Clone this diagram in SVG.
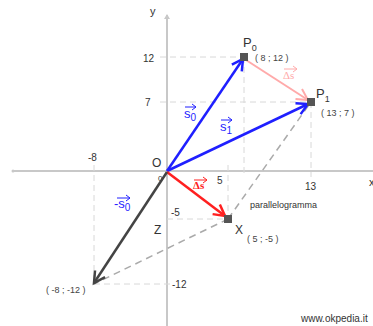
<svg xmlns="http://www.w3.org/2000/svg" width="373" height="326" viewBox="0 0 373 326">
<style>
.axis{stroke:#c8c8c8;stroke-width:2;fill:none}
.grid{stroke:#d8d8d8;stroke-width:1;stroke-dasharray:6,4;fill:none}
.para{stroke:#aaaaaa;stroke-width:1.5;stroke-dasharray:7,5;fill:none}
.t{font-family:"Liberation Sans",Arial,sans-serif;fill:#333}
.tick{font-size:10px}
.coord{font-size:9px;fill:#444}
.pt{fill:#555}
.vlab{font-family:"Liberation Sans",Arial,sans-serif;font-size:13px}
</style>
<defs>
<marker id="aB" markerUnits="userSpaceOnUse" markerWidth="16" markerHeight="16" refX="0" refY="0" viewBox="-14 -8 16 16" orient="auto" overflow="visible"><path d="M-11,-6 L0,0 L-11,6" fill="none" stroke="#1f1fff" stroke-width="2.5"/></marker>
<marker id="aR" markerUnits="userSpaceOnUse" markerWidth="16" markerHeight="16" refX="0" refY="0" viewBox="-14 -8 16 16" orient="auto" overflow="visible"><path d="M-11,-6 L0,0 L-11,6" fill="none" stroke="#ff2020" stroke-width="2.5"/></marker>
<marker id="aP" markerUnits="userSpaceOnUse" markerWidth="16" markerHeight="16" refX="0" refY="0" viewBox="-14 -8 16 16" orient="auto" overflow="visible"><path d="M-11,-6 L0,0 L-11,6" fill="none" stroke="#ffaaaa" stroke-width="2"/></marker>
<marker id="aD" markerUnits="userSpaceOnUse" markerWidth="16" markerHeight="16" refX="0" refY="0" viewBox="-14 -8 16 16" orient="auto" overflow="visible"><path d="M-11,-6 L0,0 L-11,6" fill="none" stroke="#444" stroke-width="2.5"/></marker>
<marker id="tiny" markerUnits="userSpaceOnUse" viewBox="-5 -4 6 8" markerWidth="6" markerHeight="8" refX="0" refY="0" orient="auto" overflow="visible"><path d="M-4,-3 L0,0 L-4,3" fill="none" stroke="context-stroke" stroke-width="1"/></marker>
</defs>

<g id="axes">
<line class="axis" x1="13" y1="171" x2="373" y2="171"/>
<line class="axis" x1="167" y1="15" x2="167" y2="326"/>
<circle cx="13" cy="171" r="1.5" fill="#c8c8c8"/>
<path d="M164,19 L167,14 L170,19" fill="#c8c8c8"/>
<text class="t" x="150" y="15" font-size="11" fill="#555">y</text>
<text class="t" x="369" y="186" font-size="11" fill="#555">x</text>
<text class="t tick" x="143" y="62">12</text>
<text class="t tick" x="145" y="106">7</text>
<text class="t tick" x="88" y="161">-8</text>
<text class="t" x="158" y="181" font-size="8">0</text>
<text class="t tick" x="171" y="216">-5</text>
<text class="t tick" x="172" y="288">-12</text>
<text class="t tick" x="217" y="184">5</text>
<text class="t tick" x="305" y="190">13</text>
</g>

<g id="grid">
<line class="grid" x1="160" y1="57" x2="244" y2="57"/>
<line class="grid" x1="244" y1="57" x2="244" y2="177"/>
<line class="grid" x1="160" y1="102" x2="311" y2="102"/>
<line class="grid" x1="311" y1="102" x2="311" y2="177"/>
<line class="grid" x1="228" y1="165" x2="228" y2="219"/>
<line class="grid" x1="167" y1="219" x2="228" y2="219"/>
<line class="grid" x1="94" y1="165" x2="94" y2="284"/>
<line class="grid" x1="94" y1="284" x2="172" y2="284"/>
</g>

<g id="connectors">
<line class="para" x1="228" y1="219" x2="311" y2="102"/>
<line class="para" x1="228" y1="219" x2="94" y2="284"/>
<line x1="167" y1="171" x2="243" y2="59" stroke="#1f1fff" stroke-width="2.5" marker-end="url(#aB)"/>
<line x1="167" y1="171" x2="308" y2="104" stroke="#1f1fff" stroke-width="2.5" marker-end="url(#aB)"/>
<line x1="246" y1="60" x2="308" y2="100" stroke="#ffaaaa" stroke-width="2" marker-end="url(#aP)"/>
<line x1="167" y1="172" x2="225" y2="216" stroke="#ff2020" stroke-width="2.5" marker-end="url(#aR)"/>
<line x1="167" y1="172" x2="94" y2="283" stroke="#444" stroke-width="2.5" marker-end="url(#aD)"/>
</g>

<g id="P0">
<rect class="pt" x="240" y="53" width="8" height="8"/>
<text class="t" x="243" y="47" font-size="13">P<tspan font-size="9" dy="4">0</tspan></text>
<text class="t coord" x="255" y="61">( 8 ; 12 )</text>
</g>
<g id="P1">
<rect class="pt" x="307" y="98" width="8" height="8"/>
<text class="t" x="316" y="98" font-size="13">P<tspan font-size="9" dy="4">1</tspan></text>
<text class="t coord" x="321" y="116">( 13 ; 7 )</text>
</g>
<g id="X">
<rect class="pt" x="224" y="215" width="8" height="8"/>
<text class="t" x="235" y="234" font-size="12">X</text>
<text class="t coord" x="247" y="242">( 5 ; -5 )</text>
</g>
<g id="Q">
<text class="t coord" x="46" y="293">( -8 ; -12 )</text>
</g>
<g id="O">
<text class="t" x="152" y="167" font-size="12">O</text>
</g>
<g id="Z">
<text class="t" x="154" y="234" font-size="12">Z</text>
</g>
<g id="labels">
<text class="vlab" x="184" y="118" fill="#1f1fff">s<tspan font-size="10" dy="3">0</tspan></text>
<line x1="185" y1="107" x2="196" y2="107" stroke="#1f1fff" stroke-width="1" marker-end="url(#tiny)"/>
<text class="vlab" x="220" y="131" fill="#1f1fff">s<tspan font-size="10" dy="3">1</tspan></text>
<line x1="221" y1="120" x2="232" y2="120" stroke="#1f1fff" stroke-width="1" marker-end="url(#tiny)"/>
<text x="283" y="79" font-family="'Liberation Serif',serif" font-size="11" fill="#ffaaaa">Δs</text>
<line x1="284" y1="69" x2="297" y2="69" stroke="#ffaaaa" stroke-width="1" marker-end="url(#tiny)"/>
<text x="193" y="189" font-family="'Liberation Serif',serif" font-size="11" font-weight="bold" fill="#ff2020">Δs</text>
<line x1="194" y1="180" x2="207" y2="180" stroke="#ff2020" stroke-width="1" marker-end="url(#tiny)"/>
<text class="vlab" x="114" y="208" fill="#1f1fff">-s<tspan font-size="10" dy="3">0</tspan></text>
<line x1="117" y1="198" x2="130" y2="198" stroke="#1f1fff" stroke-width="1" marker-end="url(#tiny)"/>
<text class="t" x="250" y="208" font-size="9">parallelogramma</text>
<text class="t" x="301" y="322" font-size="10">www.okpedia.it</text>
</g>
</svg>
